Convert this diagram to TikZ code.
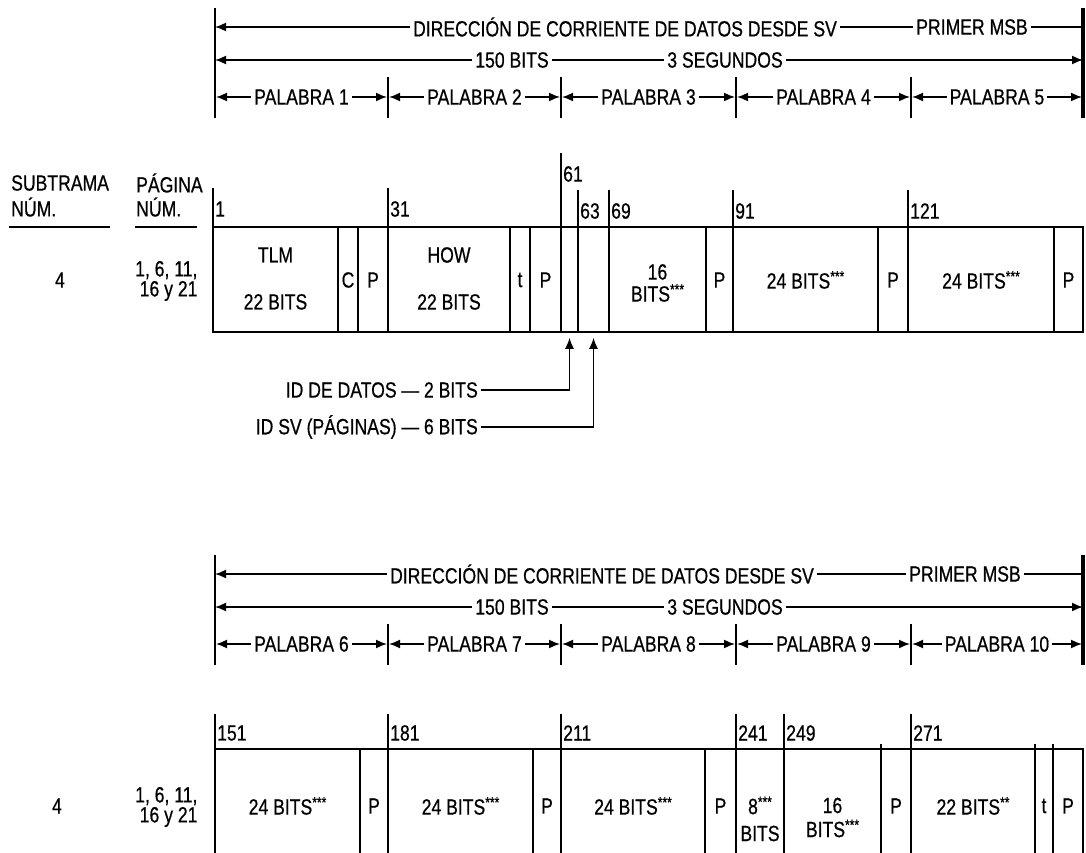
\documentclass[tikz,border=0pt]{standalone}
\usepackage{fontspec}
\setmainfont[FakeStretch=0.80, FakeBold=0.6]{Liberation Sans}
\usetikzlibrary{arrows.meta,positioning}
\newcommand\stars[1]{\raisebox{0.32em}{\fontsize{15}{15}\selectfont #1}}

\begin{document}
\begin{tikzpicture}[
    x=1pt, y=-1pt,
    font=\fontsize{22}{22}\selectfont,
    tip/.style={-{Latex[length=11pt,width=9pt]}},
    tips/.style={{Latex[length=11pt,width=9pt]}-{Latex[length=11pt,width=9pt]}},
    dim/.style={line width=1.6pt},
    lbl/.style={fill=white, inner sep=3pt},
    cell/.style={draw, line width=1.5pt, inner sep=0pt, minimum height=105pt},
    tick/.style={line width=1.5pt},
    num/.style={anchor=west, inner sep=2pt},
  ]
  \useasboundingbox (0,0) rectangle (1086,853);

  % data stream headers, words 1-5 and 6-10
  \foreach \blk/\dy/\off/\dirx/\msbx in {a/0/0/625/972, b/547/5/602/965} {
    \begin{scope}[yshift=-\dy pt]
      \coordinate (\blk-dl) at (215,27);
      \coordinate (\blk-dr) at (1083,27);
      \draw[dim, tip] (\blk-dr) -- (\blk-dl);
      \node[lbl] (\blk-dir) at (\dirx,27) {DIRECCIÓN DE CORRIENTE DE DATOS DESDE SV};
      \node[lbl] (\blk-msb) at (\msbx,27) {PRIMER MSB};
      \coordinate (\blk-bl) at (215,60);
      \coordinate (\blk-br) at (1083,60);
      \draw[dim, tips] (\blk-bl) -- (\blk-br);
      \node[lbl] (\blk-bits) at (512,60) {150 BITS};
      \node[lbl] (\blk-sec) at (725,60) {3 SEGUNDOS};
      \foreach \xa/\xb [count=\i] in {215/388, 388/561, 561/736, 736/911, 911/1083} {
        \pgfmathtruncatemacro\k{\i+\off}
        \coordinate (\blk-w\i l) at (\xa,97);
        \coordinate (\blk-w\i r) at (\xb,97);
        \draw[dim, tips, shorten <=1pt, shorten >=1pt] (\blk-w\i l) -- (\blk-w\i r);
        \node[lbl] (\blk-w\i) at ({(\xa+\xb)/2},97) {PALABRA \k};
      }
      \draw[tick] (215,8) -- (215,118);
      \draw[line width=3.5pt] (1083,8) -- (1083,118);
      \foreach \x in {388,561,736,911}
        \draw[tick] (\x,77) -- (\x,118);
    \end{scope}
  }

  % column heads
  \node[anchor=west, inner sep=0pt] (sub) at (11,183) {SUBTRAMA};
  \node[anchor=west, inner sep=0pt] (subnum) at (11,207) {NÚM.};
  \draw[line width=2.5pt] (9,227) -- (110,227);
  \node[anchor=west, inner sep=0pt] (pag) at (136,183) {PÁGINA};
  \node[anchor=west, inner sep=0pt] (pagnum) at (136,207) {NÚM.};
  \draw[line width=2.5pt] (135,227) -- (197,227);

  % first row of the frame, words 1-5
  \node (a-sub) at (60,280) {4};
  \node[anchor=east, align=right, font=\fontsize{22}{20}\selectfont] (a-pag) at (201,281) {1, 6, 11,\\16 y 21};
  \foreach \x/\num/\top in {213/1/188, 388/31/188, 561/61/153, 578/63/190, 609/69/190, 733/91/190, 908/121/190} {
    \draw[tick] (\x,\top) -- (\x,227);
    \node[num] (a-n\num) at (\x,\top+21) {\num};
  }
  \foreach \xa/\xb/\n/\txt/\ty in {
      213/338/tlm/{TLM\\[25pt]22 BITS}/278.5,
      338/358/c/C/280, 358/388/p1/P/280,
      388/510/how/{HOW\\[25pt]22 BITS}/278.5,
      510/530/t/t/280, 530/561/p2/P/280,
      561/578/idd/{}/280, 578/609/ids/{}/280,
      609/706/d16/{16\\[0pt]BITS\stars{***}}/283, 706/733/p3/P/280,
      733/878/d24a/{24 BITS\stars{***}}/280, 878/908/p4/P/280,
      908/1054/d24b/{24 BITS\stars{***}}/280, 1054/1083/p5/P/280} {
    \node[cell, minimum width={(\xb-\xa)*1pt}] (a-\n) at ({(\xa+\xb)/2},279.5) {};
    \node[align=center, inner sep=0pt] (a-\n-txt) at ({(\xa+\xb)/2},\ty) {\txt};
  }

  % ID callouts
  \node[anchor=east, inner sep=3pt] (dataid) at (481,390) {ID DE DATOS — 2 BITS};
  \node[anchor=east, inner sep=3pt] (svid) at (481,427) {ID SV (PÁGINAS) — 6 BITS};
  \draw[dim, tip, shorten >=5pt] (dataid.east) -| (a-idd.south);
  \draw[dim, tip, shorten >=5pt] (svid.east) -| (a-ids.south);

  % second row of the frame, words 6-10
  \node (b-sub) at (57,806) {4};
  \node[anchor=east, align=right, font=\fontsize{22}{20}\selectfont] (b-pag) at (201,807) {1, 6, 11,\\16 y 21};
  \foreach \x/\num in {215/151, 388/181, 561/211, 736/241, 784/249, 911/271} {
    \draw[tick] (\x,714) -- (\x,749);
    \node[num] (b-n\num) at (\x,733) {\num};
  }
  \foreach \x in {881,1035,1053}
    \draw[tick] (\x,744) -- (\x,749);
  \foreach \xa/\xb/\n/\txt/\ty in {
      215/360/d24a/{24 BITS\stars{***}}/806, 360/388/p1/P/806,
      388/533/d24b/{24 BITS\stars{***}}/806, 533/561/p2/P/806,
      561/705/d24c/{24 BITS\stars{***}}/806, 705/736/p3/P/806,
      736/784/d8/{8\stars{***}\\[5pt]BITS}/819,
      784/881/d16/{16\\[2pt]BITS\stars{***}}/817.5, 881/911/p4/P/806,
      911/1035/d22/{22 BITS\stars{**}}/806,
      1035/1053/t/t/806, 1053/1083/p5/P/806} {
    \node[cell, minimum height=110pt, minimum width={(\xb-\xa)*1pt}] (b-\n) at ({(\xa+\xb)/2},804) {};
    \node[align=center, inner sep=0pt] (b-\n-txt) at ({(\xa+\xb)/2},\ty) {\txt};
  }
\end{tikzpicture}
\end{document}
